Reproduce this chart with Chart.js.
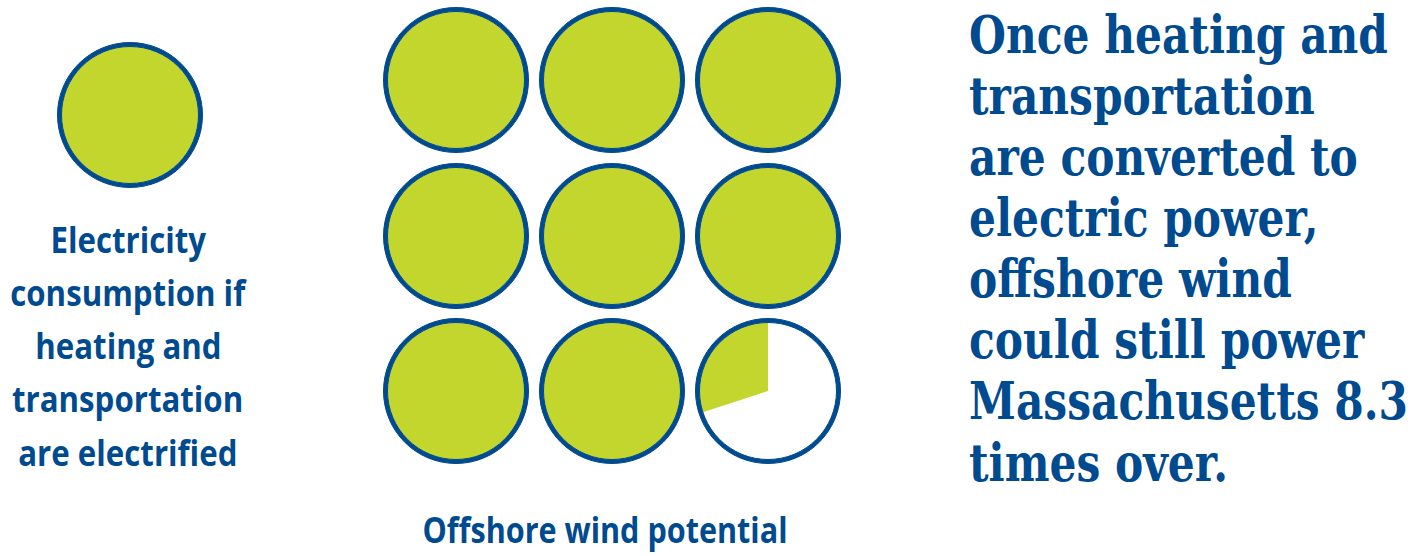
<!DOCTYPE html>
<html><head><meta charset="utf-8">
<script src="https://cdn.jsdelivr.net/npm/chart.js@4/dist/chart.umd.min.js"></script>
<style>
html,body{margin:0;padding:0;background:#fff;width:1426px;height:556px;overflow:hidden;}
body{position:relative;}
canvas.c{position:absolute;}
.t{position:absolute;white-space:nowrap;color:#004A8F;margin:0;padding:0;}
</style></head><body>
<script>
// ---- data ----
const consumptionLabel = ['Electricity', 'consumption if', 'heating and', 'transportation', 'are electrified'];
const potentialLabel = ['Offshore wind potential'];
const headlineLines = ['Once heating and', 'transportation', 'are converted to', 'electric power,', 'offshore wind', 'could still power', 'Massachusetts 8.3', 'times over.'];
const consumptionUnits = [1];
const offshoreUnits = [1, 1, 1, 1, 1, 1, 1, 1, 0.3];

// ---- style ----
const BLUE = '#004A8F';
const GREEN = '#C2D62E';

function makeCircle(cx, cy, v) {
  const cv = document.createElement('canvas');
  cv.className = 'c';
  cv.width = 160; cv.height = 160;
  cv.style.width = '160px'; cv.style.height = '160px';
  cv.style.left = (cx - 80) + 'px';
  cv.style.top = (cy - 80) + 'px';
  document.body.appendChild(cv);
  new Chart(cv, {
    type: 'doughnut',
    data: {
      labels: ['Remaining', 'Share'],
      datasets: [
        { data: [1], backgroundColor: [BLUE], borderColor: BLUE, borderWidth: 1, hoverBorderWidth: 1, weight: 4 },
        { data: [1 - v, v], backgroundColor: ['#ffffff', GREEN], borderWidth: 0, hoverBorderWidth: 0, weight: 68.5 }
      ]
    },
    options: {
      responsive: false, animation: false, events: [],
      cutout: 0, radius: 72.5,
      layout: { padding: 0 },
      plugins: { legend: { display: false }, tooltip: { enabled: false } }
    }
  });
}

consumptionUnits.forEach(v => makeCircle(130, 115, v));
offshoreUnits.forEach((v, i) => {
  const col = i % 3, row = Math.floor(i / 3);
  makeCircle(456 + 156 * col, 80 + 155.5 * row, v);
});

// ---- text ----
const mctx = document.createElement('canvas').getContext('2d');
function block(lines, family, size, x, firstBaseline, step, align, refIndex, refWidth) {
  const font = `bold ${size}px ${family}`;
  mctx.font = font;
  const scale = refWidth / mctx.measureText(lines[refIndex]).width;
  lines.forEach((txt, i) => {
    const m = mctx.measureText(txt);
    const A = m.fontBoundingBoxAscent, D = m.fontBoundingBoxDescent;
    const H = Math.round(size * 1.3);
    const d = document.createElement('div');
    d.className = 't';
    d.textContent = txt;
    d.style.font = font;
    d.style.lineHeight = H + 'px';
    const base = firstBaseline + step * i;
    d.style.top = (base - (H - (A + D)) / 2 - A) + 'px';
    if (align === 'center') {
      d.style.left = (x - m.width / 2) + 'px';
      d.style.transformOrigin = (m.width / 2) + 'px 50%';
    } else {
      d.style.left = x + 'px';
      d.style.transformOrigin = '0 50%';
    }
    d.style.transform = `scaleX(${scale})`;
    document.body.appendChild(d);
  });
}
block(consumptionLabel, '"Open Sans"', 35, 128, 253, 53.3, 'center', 1, 235);
block(potentialLabel, '"Open Sans"', 35, 605, 543, 0, 'center', 0, 365);
block(headlineLines, '"DejaVu Serif"', 52, 969, 53, 61.15, 'left', 6, 439);
</script>
</body></html>
